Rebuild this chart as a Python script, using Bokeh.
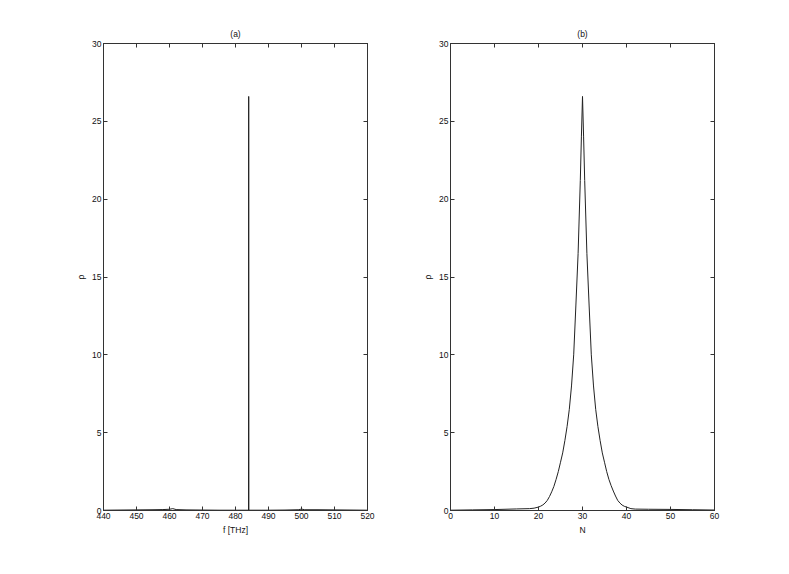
from bokeh.plotting import figure
from bokeh.layouts import row
from bokeh.models import Range1d, LinearAxis, FixedTicker, CustomJSTickFormatter
from bokeh.embed import file_html
from bokeh.resources import INLINE

# ---- data ----
freq_thz = [440, 445, 450, 455, 458, 460, 461, 462, 465, 470, 475, 480, 483.95,
            484.0, 484.05, 488, 490, 495, 499, 500, 501, 505, 510, 515, 520]
rho_freq = [0.02, 0.03, 0.04, 0.05, 0.06, 0.08, 0.12, 0.06, 0.04, 0.03, 0.02, 0.02, 0.02,
            26.6, 0.02, 0.02, 0.02, 0.03, 0.05, 0.09, 0.05, 0.05, 0.04, 0.03, 0.02]

n_vals = [0, 5, 10, 15, 18, 19, 20, 20.5, 21, 21.5, 22, 22.5, 23, 23.5, 24, 24.5, 25, 25.5,
          26, 26.5, 27, 27.5, 28, 28.5, 29, 29.5, 29.75, 30, 30.25, 30.5, 31, 31.5, 32, 32.5,
          33, 33.5, 34, 34.5, 35, 35.5, 36, 36.5, 37, 37.5, 38, 38.5, 39, 39.5, 40, 41, 42,
          45, 50, 55, 60]
rho_n = [0.02, 0.04, 0.06, 0.1, 0.12, 0.15, 0.22, 0.28, 0.36, 0.48, 0.65, 0.9, 1.2, 1.55,
         2.0, 2.5, 3.1, 3.7, 4.5, 5.4, 6.5, 8.0, 10.0, 13.2, 16.5, 21.2, 24.0, 26.6, 24.0,
         21.2, 16.5, 13.2, 10.0, 8.0, 6.5, 5.4, 4.5, 3.7, 3.1, 2.5, 2.0, 1.6, 1.25, 0.93,
         0.65, 0.48, 0.35, 0.27, 0.22, 0.12, 0.09, 0.08, 0.07, 0.05, 0.03]

x_ticks_a = [440, 450, 460, 470, 480, 490, 500, 510, 520]
x_ticks_b = [0, 10, 20, 30, 40, 50, 60]
y_ticks = [0, 5, 10, 15, 20, 25, 30]

FONT = "Liberation Sans"
FS = "8.5px"
TXT = "#111111"


def style_axis(ax, ticks, show_labels=True):
    ax.ticker = FixedTicker(ticks=ticks)
    ax.major_tick_in = 4
    ax.major_tick_out = 0
    ax.minor_tick_in = 0
    ax.minor_tick_out = 0
    ax.axis_line_color = "#333333"
    ax.major_tick_line_color = "#333333"
    ax.major_label_text_font = FONT
    ax.major_label_text_font_size = FS
    ax.major_label_text_color = TXT
    ax.major_label_standoff = 2
    ax.axis_label_text_font = FONT
    ax.axis_label_text_font_size = FS
    ax.axis_label_text_font_style = "normal"
    ax.axis_label_text_color = TXT
    ax.axis_label_standoff = 3
    if not show_labels:
        ax.formatter = CustomJSTickFormatter(code="return '';")
        ax.major_label_standoff = 0


def make_panel(x, y, xr, xticks, xlabel, title, left_border, width):
    p = figure(width=width, height=560, output_backend="svg", toolbar_location=None,
               x_range=Range1d(*xr), y_range=Range1d(0, 30),
               min_border_left=left_border, min_border_right=width - left_border - 264,
               min_border_top=43, min_border_bottom=50, title=title)
    p.title.align = "center"
    p.title.text_font = FONT
    p.title.text_font_size = FS
    p.title.text_font_style = "normal"
    p.title.text_color = TXT
    p.xgrid.visible = False
    p.ygrid.visible = False
    p.outline_line_color = "#333333"
    p.background_fill_color = "white"
    p.border_fill_color = "white"
    p.line(x, y, line_color="#222222", line_width=1)
    style_axis(p.xaxis[0], xticks)
    style_axis(p.yaxis[0], y_ticks)
    p.xaxis[0].axis_label = xlabel
    p.yaxis[0].axis_label = "ρ"
    top = LinearAxis()
    style_axis(top, xticks, show_labels=False)
    p.add_layout(top, "above")
    right = LinearAxis()
    style_axis(right, y_ticks, show_labels=False)
    p.add_layout(right, "right")
    return p


pa = make_panel(freq_thz, rho_freq, (440, 520), x_ticks_a, "f [THz]", "(a)", 103, 387)
pb = make_panel(n_vals, rho_n, (0, 60), x_ticks_b, "N", "(b)", 63, 347)

layout = row(pa, pb)
open("out.html", "w").write(file_html(layout, INLINE))
